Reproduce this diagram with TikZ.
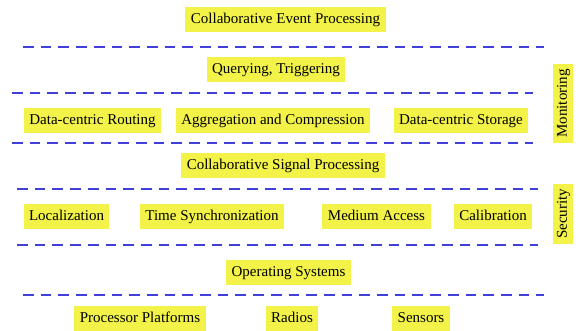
\documentclass[tikz,border=0pt]{standalone}
\usepackage{fontspec}
\setmainfont{Liberation Serif}
\definecolor{boxyellow}{RGB}{242,242,72}
\definecolor{lineblue}{RGB}{64,64,216}
\begin{document}
\begin{tikzpicture}[x=1pt,y=-1pt,
  layerbox/.style={fill=boxyellow, draw=none, inner xsep=5.5pt, inner ysep=0pt,
    text height=10.5pt, text depth=2pt,
    minimum height=25pt, font=\fontsize{15}{18}\selectfont},
  sidebox/.style={layerbox, rotate=90, minimum height=20pt, text height=10pt, text depth=2.5pt},
  sepline/.style={draw=lineblue, line width=2.2pt, dash pattern=on 10.7pt off 7pt}]
\useasboundingbox (0,0) rectangle (579,331);
% layer 1
\node[layerbox] (cep) at (285.5,19.5) {Collaborative Event Processing};
\draw[sepline] (23,47) -- (544,47);
% layer 2
\node[layerbox] (qt) at (276,69.5) {Querying, Triggering};
\draw[sepline] (12,93) -- (533,93);
% layer 3
\node[layerbox] (dcr) at (92.5,120.5) {Data-centric Routing};
\node[layerbox] (aac) at (273,120.5) {Aggregation and Compression};
\node[layerbox] (dcs) at (461,120.5) {Data-centric Storage};
\draw[sepline] (12,143) -- (533,143);
% layer 4
\node[layerbox] (csp) at (283,165.5) {Collaborative Signal Processing};
\draw[sepline] (17,189) -- (538,189);
% layer 5
\node[layerbox] (loc) at (66.5,216.5) {Localization};
\node[layerbox] (ts) at (212,216.5) {Time Synchronization};
\node[layerbox] (ma) at (376.5,216.5) {Medium Access};
\node[layerbox] (cal) at (493,216.5) {Calibration};
\draw[sepline] (17,245) -- (538,245);
% layer 6
\node[layerbox] (os) at (288.5,272.5) {Operating Systems};
\draw[sepline] (23,295) -- (544,295);
% layer 7
\node[layerbox] (pp) at (140,318.5) {Processor Platforms};
\node[layerbox] (rad) at (292,318.5) {Radios};
\node[layerbox] (sen) at (421,318.5) {Sensors};
% side boxes
\node[sidebox] (mon) at (563,103.5) {Monitoring};
\node[sidebox] (sec) at (563,214) {Security};
\end{tikzpicture}
\end{document}
